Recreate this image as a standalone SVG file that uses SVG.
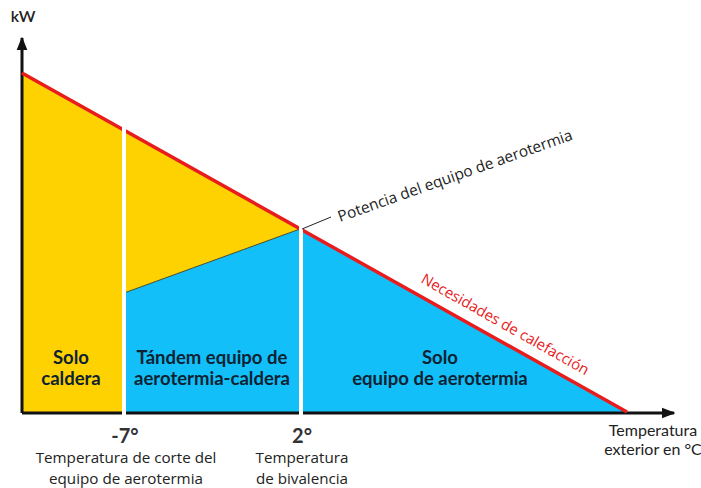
<svg xmlns="http://www.w3.org/2000/svg" width="701" height="488" viewBox="0 0 701 488">
<defs>
<style>
.lbl{font-family:Lato,"Open Sans",sans-serif;font-weight:bold;font-size:18.5px;fill:#0d2233;text-anchor:middle}
.cap{font-family:"Open Sans",Lato,sans-serif;font-size:15.2px;fill:#222;text-anchor:middle}
.ax{font-family:Lato,sans-serif;font-size:16px;fill:#222;text-anchor:middle}
.deg{font-family:Lato,sans-serif;font-weight:bold;font-size:20px;fill:#333;text-anchor:middle}
</style>
<marker id="arr" viewBox="0 0 10 10" refX="9" refY="5" markerWidth="4.5" markerHeight="4.5" orient="auto" markerUnits="strokeWidth"><path d="M0,1 L10,5 L0,9 z" fill="#111"/></marker>
</defs>
<rect width="701" height="488" fill="#fff"/>
<g id="areas">
<polygon points="22,73 300,229 124,293 124,413 22,413" fill="#fed200"/>
<polygon points="124,293 300,229 627,412 124,412" fill="#12bff8"/>
<line x1="124" y1="293" x2="300" y2="229" stroke="#4a4a2a" stroke-width="1"/>
</g>
<g id="connectors">
<line x1="22" y1="413" x2="22" y2="38" stroke="#111" stroke-width="3" marker-end="url(#arr)"/>
<line x1="22" y1="413" x2="674" y2="413" stroke="#111" stroke-width="3" marker-end="url(#arr)"/>
<line x1="22" y1="73" x2="627" y2="412" stroke="#e81c1c" stroke-width="3.5"/>
<line x1="124" y1="126" x2="124" y2="416" stroke="#fff" stroke-width="4"/>
<line x1="301" y1="225" x2="301" y2="416" stroke="#fff" stroke-width="4"/>
<line x1="302" y1="229" x2="331" y2="217" stroke="#222" stroke-width="1"/>
</g>
<g id="n-kw"><text x="23" y="22" class="ax" font-size="15" font-weight="600">kW</text></g>
<g id="n-caldera"><text x="71" y="364" class="lbl">Solo</text><text x="71" y="385" class="lbl">caldera</text></g>
<g id="n-tandem"><text x="212" y="364" class="lbl">Tándem equipo de</text><text x="212" y="385" class="lbl">aerotermia-caldera</text></g>
<g id="n-solo"><text x="440" y="364" class="lbl">Solo</text><text x="440" y="385" class="lbl">equipo de aerotermia</text></g>
<g id="n-m7"><text x="125" y="443" class="deg">-7°</text><text x="126" y="463" class="cap">Temperatura de corte del</text><text x="126" y="483.5" class="cap">equipo de aerotermia</text></g>
<g id="n-2"><text x="302" y="443" class="deg">2°</text><text x="302" y="463" class="cap">Temperatura</text><text x="302" y="483.5" class="cap">de bivalencia</text></g>
<g id="n-ext"><text x="653" y="436" class="ax">Temperatura</text><text x="653" y="455" class="ax">exterior en °C</text></g>
<g id="n-potencia"><text x="340" y="222" transform="rotate(-19.5 340 222)" font-family="'Open Sans',sans-serif" font-size="15.4" fill="#222">Potencia del equipo de aerotermia</text></g>
<g id="n-necesidades"><text x="420" y="282" transform="rotate(29.5 420 282)" font-family="'Open Sans',sans-serif" font-size="14.9" fill="#e81c1c">Necesidades de calefacción</text></g>
</svg>
